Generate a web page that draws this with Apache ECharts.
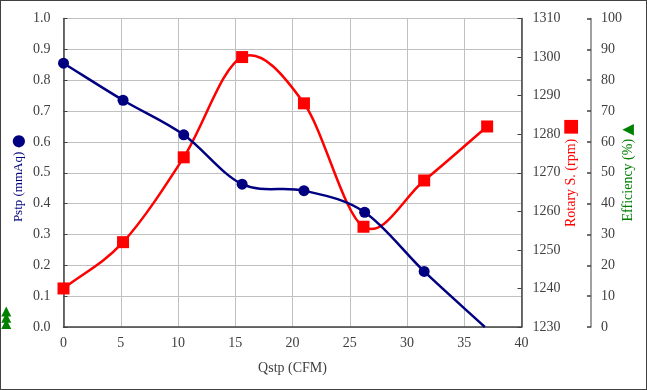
<!DOCTYPE html>
<html>
<head>
<meta charset="utf-8">
<script src="https://cdn.jsdelivr.net/npm/echarts@6/dist/echarts.min.js"></script>
<style>
html,body{margin:0;padding:0;background:#fff;}
#c{width:647px;height:390px;box-sizing:border-box;border:1px solid #404040;}
</style>
</head>
<body>
<div id="c"></div>
<script>
// ---- data ----
var qstpFlow = [0, 5.2, 10.5, 15.6, 21.0, 26.3, 31.5, 36.8];
var pstpValues = [0.855, 0.735, 0.623, 0.463, 0.442, 0.372, 0.18, 0.0];
var rotaryFlow = [0, 5.2, 10.5, 15.6, 21.0, 26.2, 31.5, 37.0];
var rotaryValues = [1240, 1252, 1274, 1300, 1288, 1256, 1268, 1282];
var effFlow = [-5, -5, -5];
var effValues = [1, 3, 5];
var xTicks = {min: 0, max: 40, interval: 5};
var pstpTicks = {min: 0, max: 1, interval: 0.1};
var rotaryTicks = {min: 1230, max: 1310, interval: 10};
var effTicks = {min: 0, max: 100, interval: 10};

var FONT = '"Liberation Serif", "Times New Roman", serif';
var LBL = '#404040';

function pairs(xs, ys) {
  return xs.map(function (x, i) { return [x, ys[i]]; });
}
var pstpMarks = pairs(qstpFlow, pstpValues).map(function (p, i, arr) {
  return i === arr.length - 1 ? {value: p, symbol: 'none'} : p;
});

// Excel-like smoothed line (Catmull-Rom style cubic segments), drawn through the axes' scales
function smoothRenderer(xs, ys, color) {
  return function (params, api) {
    var i = params.dataIndex;
    var n = xs.length;
    if (i >= n - 1) return null;
    function P(k) {
      k = Math.max(0, Math.min(n - 1, k));
      return api.coord([xs[k], ys[k]]);
    }
    function T(k) {
      var a = P(k - 1), b = P(k + 1);
      var div = (k === 0 || k === n - 1) ? 1 : 2;
      return [(b[0] - a[0]) / div, (b[1] - a[1]) / div];
    }
    var p0 = P(i), p1 = P(i + 1), t0 = T(i), t1 = T(i + 1);
    return {
      type: 'bezierCurve',
      shape: {
        x1: p0[0], y1: p0[1], x2: p1[0], y2: p1[1],
        cpx1: p0[0] + t0[0] / 3, cpy1: p0[1] + t0[1] / 3,
        cpx2: p1[0] - t1[0] / 3, cpy2: p1[1] - t1[1] / 3
      },
      style: {stroke: color, lineWidth: 2.5, fill: null}
    };
  };
}

var chart = echarts.init(document.getElementById('c'));
chart.setOption({
  animation: false,
  grid: {left: 62.5, right: 124.5, top: 17.5, bottom: 62, outerBoundsMode: 'none', containLabel: false},
  xAxis: {
    type: 'value', min: xTicks.min, max: xTicks.max, interval: xTicks.interval,
    name: 'Qstp (CFM)', nameLocation: 'middle', nameGap: 34, nameMoveOverlap: false,
    nameTextStyle: {fontFamily: FONT, fontSize: 14, color: LBL},
    axisLine: {onZero: false, lineStyle: {color: '#404040', width: 1.5}},
    axisTick: {show: false},
    axisLabel: {fontFamily: FONT, fontSize: 14, color: LBL, margin: 9},
    splitLine: {lineStyle: {color: '#c0c0c0', width: 1}}
  },
  yAxis: [{
    type: 'value', min: pstpTicks.min, max: pstpTicks.max, interval: pstpTicks.interval,
    position: 'left',
    name: '{t|Pstp (mmAq)} {s|●}', nameLocation: 'middle', nameGap: 37, nameRotate: 90,
    nameMoveOverlap: false,
    nameTextStyle: {
      padding: [0, 11, 0, 0],
      rich: {
        t: {fontFamily: FONT, fontSize: 13, color: '#000080'},
        s: {fontFamily: 'DejaVu Sans', fontSize: 16, color: '#000080'}
      }
    },
    axisLine: {show: true, lineStyle: {color: '#404040', width: 1.5}},
    axisTick: {show: true, inside: true, length: 4, lineStyle: {color: '#404040'}},
    axisLabel: {fontFamily: FONT, fontSize: 14, color: LBL, margin: 13,
      formatter: function (v) { return v.toFixed(1); }},
    splitLine: {lineStyle: {color: '#c0c0c0', width: 1}}
  }, {
    type: 'value', min: rotaryTicks.min, max: rotaryTicks.max, interval: rotaryTicks.interval,
    position: 'right',
    name: '{t|Rotary S. (rpm)} {s|■}', nameLocation: 'middle', nameGap: 41, nameRotate: 90,
    nameMoveOverlap: false,
    nameTextStyle: {
      rich: {
        t: {fontFamily: FONT, fontSize: 14, color: '#ff0000'},
        s: {fontFamily: 'DejaVu Sans', fontSize: 18, color: '#ff0000'}
      }
    },
    axisLine: {show: true, lineStyle: {color: '#404040', width: 1.5}},
    axisTick: {show: true, inside: true, length: 4, lineStyle: {color: '#404040'}},
    axisLabel: {fontFamily: FONT, fontSize: 14, color: LBL, margin: 11,
      formatter: function (v) { return String(v); }},
    splitLine: {show: false}
  }, {
    type: 'value', min: effTicks.min, max: effTicks.max, interval: effTicks.interval,
    position: 'right', offset: 69.5,
    name: '{t|Efficiency (%)} {s|▲}', nameLocation: 'middle', nameGap: 30, nameRotate: 90,
    nameMoveOverlap: false,
    nameTextStyle: {
      rich: {
        t: {fontFamily: FONT, fontSize: 14, color: '#008000'},
        s: {fontFamily: 'DejaVu Sans', fontSize: 15, color: '#008000'}
      }
    },
    axisLine: {show: true, lineStyle: {color: '#808080', width: 1.5}},
    axisTick: {show: true, inside: true, length: 4, lineStyle: {color: '#404040', width: 1.5}},
    axisLabel: {fontFamily: FONT, fontSize: 14, color: LBL, margin: 10},
    splitLine: {show: false}
  }],
  series: [{
    name: 'Rotary S. line', type: 'custom', yAxisIndex: 1,
    data: pairs(rotaryFlow, rotaryValues),
    renderItem: smoothRenderer(rotaryFlow, rotaryValues, '#ff0000'),
    z: 3
  }, {
    name: 'Rotary S.', type: 'scatter', yAxisIndex: 1,
    data: pairs(rotaryFlow, rotaryValues),
    symbol: 'rect', symbolSize: 12,
    itemStyle: {color: '#ff0000', opacity: 1},
    z: 4
  }, {
    name: 'Pstp line', type: 'custom', yAxisIndex: 0,
    data: pairs(qstpFlow, pstpValues),
    renderItem: smoothRenderer(qstpFlow, pstpValues, '#000080'),
    z: 5
  }, {
    name: 'Pstp', type: 'scatter', yAxisIndex: 0,
    data: pstpMarks,
    symbol: 'circle', symbolSize: 11,
    itemStyle: {color: '#000080', opacity: 1},
    z: 6
  }, {
    name: 'Efficiency', type: 'scatter', yAxisIndex: 2,
    data: pairs(effFlow, effValues),
    clip: false,
    symbol: 'triangle', symbolSize: [10, 10],
    itemStyle: {color: '#008000', opacity: 1},
    z: 7
  }]
});
</script>
</body>
</html>
